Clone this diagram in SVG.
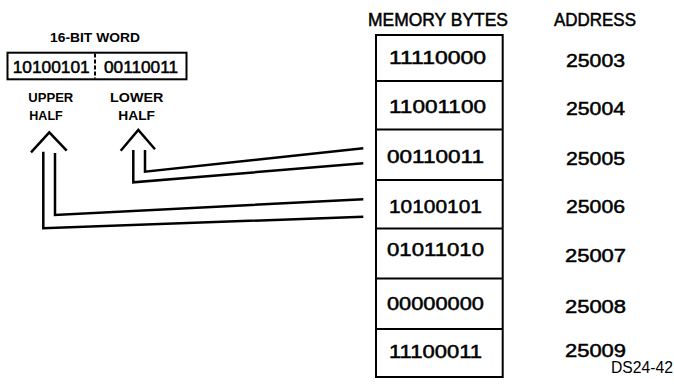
<svg xmlns="http://www.w3.org/2000/svg" width="674" height="386" viewBox="0 0 674 386">
<style>
.t{font-family:"Liberation Sans",Arial,Helvetica,sans-serif;fill:#000;stroke:#000;stroke-width:0.5}
.b{font-size:18.5px}
.h{font-size:17.5px}
.w{font-size:16px}
.s{font-size:13.5px;font-weight:bold;stroke:none}
.box{fill:none;stroke:#000;stroke-width:2}
.ln{fill:none;stroke:#000;stroke-width:2.5;stroke-linejoin:miter}
</style>
<rect width="674" height="386" fill="#fff"/>

<g id="headings">
<text class="t h" x="368" y="26" textLength="140" lengthAdjust="spacingAndGlyphs">MEMORY BYTES</text>
<text class="t h" x="554" y="26" textLength="82" lengthAdjust="spacingAndGlyphs">ADDRESS</text>
<text class="t s" x="611" y="373.3" textLength="62" lengthAdjust="spacingAndGlyphs" style="font-weight:normal;font-size:16px">DS24-42</text>
</g>

<g id="word">
<text class="t s" x="50" y="41.7" textLength="90" lengthAdjust="spacingAndGlyphs" style="font-size:12.5px">16-BIT WORD</text>
<rect class="box" x="7.5" y="52.7" width="179" height="26.6"/>
<line x1="95" y1="53.5" x2="95" y2="78.5" stroke="#000" stroke-width="2" stroke-dasharray="4,2"/>
<text class="t w" x="12.7" y="73.3" textLength="77" lengthAdjust="spacingAndGlyphs">10100101</text>
<text class="t w" x="104" y="73.3" textLength="74" lengthAdjust="spacingAndGlyphs">00110011</text>
</g>

<g id="upper-half">
<text class="t s" x="28.3" y="101.7" textLength="45" lengthAdjust="spacingAndGlyphs">UPPER</text>
<text class="t s" x="29.3" y="120" textLength="33.4" lengthAdjust="spacingAndGlyphs">HALF</text>
</g>
<g id="lower-half">
<text class="t s" x="110" y="101.7" textLength="53.3" lengthAdjust="spacingAndGlyphs">LOWER</text>
<text class="t s" x="118.3" y="120" textLength="36.7" lengthAdjust="spacingAndGlyphs">HALF</text>
</g>

<g id="connectors">
<path class="ln" d="M31,152.3 L49.3,132.3 L66.7,150.7"/>
<path class="ln" d="M43.3,151.7 V228.3 L363.3,216.7"/>
<path class="ln" d="M55,153 V215 L363.3,199.3"/>
<path class="ln" d="M120.7,150.7 L138.3,130 L155,149.3"/>
<path class="ln" d="M133.3,150 V182.3 L363.3,163.3"/>
<path class="ln" d="M145,150 V171.7 L363.3,148.3"/>
</g>

<g id="memory">
<rect class="box" x="376" y="35" width="126.7" height="342"/>
<line class="box" x1="376" y1="81" x2="502.7" y2="81"/>
<line class="box" x1="376" y1="129.5" x2="502.7" y2="129.5"/>
<line class="box" x1="376" y1="180" x2="502.7" y2="180"/>
<line class="box" x1="376" y1="228.5" x2="502.7" y2="228.5"/>
<line class="box" x1="376" y1="278.5" x2="502.7" y2="278.5"/>
<line class="box" x1="376" y1="329" x2="502.7" y2="329"/>
</g>

<g id="row-25003">
<text class="t b" x="389" y="64" textLength="97" lengthAdjust="spacingAndGlyphs">11110000</text>
<text class="t b" x="566" y="66.7" textLength="59" lengthAdjust="spacingAndGlyphs">25003</text>
</g>
<g id="row-25004">
<text class="t b" x="389" y="113.3" textLength="97" lengthAdjust="spacingAndGlyphs">11001100</text>
<text class="t b" x="566" y="115" textLength="59" lengthAdjust="spacingAndGlyphs">25004</text>
</g>
<g id="row-25005">
<text class="t b" x="387" y="163.3" textLength="97" lengthAdjust="spacingAndGlyphs">00110011</text>
<text class="t b" x="566" y="165" textLength="59" lengthAdjust="spacingAndGlyphs">25005</text>
</g>
<g id="row-25006">
<text class="t b" x="389" y="212.7" textLength="93" lengthAdjust="spacingAndGlyphs">10100101</text>
<text class="t b" x="566" y="213.3" textLength="59" lengthAdjust="spacingAndGlyphs">25006</text>
</g>
<g id="row-25007">
<text class="t b" x="387" y="255.5" textLength="97" lengthAdjust="spacingAndGlyphs">01011010</text>
<text class="t b" x="565" y="261.7" textLength="61" lengthAdjust="spacingAndGlyphs">25007</text>
</g>
<g id="row-25008">
<text class="t b" x="387" y="310" textLength="97" lengthAdjust="spacingAndGlyphs">00000000</text>
<text class="t b" x="565" y="312.7" textLength="61" lengthAdjust="spacingAndGlyphs">25008</text>
</g>
<g id="row-25009">
<text class="t b" x="389" y="358.3" textLength="93" lengthAdjust="spacingAndGlyphs">11100011</text>
<text class="t b" x="565" y="356.7" textLength="61" lengthAdjust="spacingAndGlyphs">25009</text>
</g>
</svg>
